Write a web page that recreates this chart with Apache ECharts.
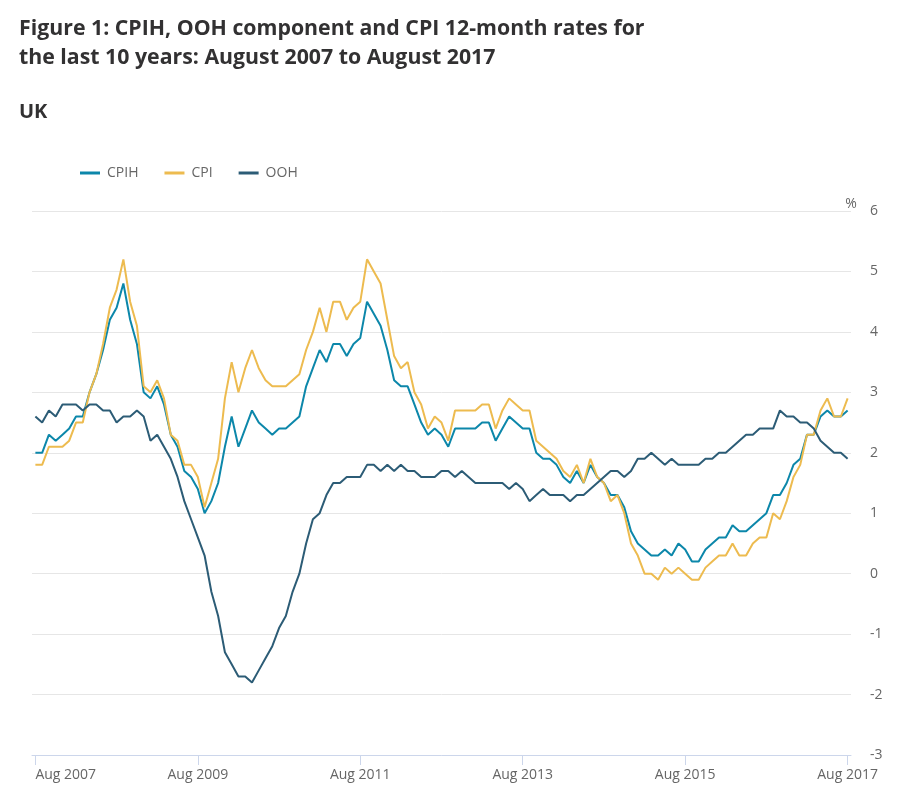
<!DOCTYPE html>
<html>
<head>
<meta charset="utf-8">
<script src="https://cdn.jsdelivr.net/npm/echarts@6/dist/echarts.min.js"></script>
<style>
html,body{margin:0;padding:0;background:#ffffff;}
#chart{width:914px;height:800px;}
</style>
</head>
<body>
<div id="chart"></div>
<script>
// ---- Data (monthly 12-month rates, %, Aug 2007 to Aug 2017) ----
const monthNames = ['Jan','Feb','Mar','Apr','May','Jun','Jul','Aug','Sep','Oct','Nov','Dec'];
const startYear = 2007;
const startMonthIndex = 7; // August
const monthCount = 121;
const categories = [];
for (let k = 0; k < monthCount; k++) {
  const m = (startMonthIndex + k) % 12;
  const y = startYear + Math.floor((startMonthIndex + k) / 12);
  categories.push(monthNames[m] + ' ' + y);
}

const cpih = [
  2.0, 2.0, 2.3, 2.2, 2.3,
  2.4, 2.6, 2.6, 3.0, 3.3, 3.7, 4.2, 4.4, 4.8, 4.2, 3.8, 3.0,
  2.9, 3.1, 2.8, 2.3, 2.1, 1.7, 1.6, 1.4, 1.0, 1.2, 1.5, 2.1,
  2.6, 2.1, 2.4, 2.7, 2.5, 2.4, 2.3, 2.4, 2.4, 2.5, 2.6, 3.1,
  3.4, 3.7, 3.5, 3.8, 3.8, 3.6, 3.8, 3.9, 4.5, 4.3, 4.1, 3.7,
  3.2, 3.1, 3.1, 2.8, 2.5, 2.3, 2.4, 2.3, 2.1, 2.4, 2.4, 2.4,
  2.4, 2.5, 2.5, 2.2, 2.4, 2.6, 2.5, 2.4, 2.4, 2.0, 1.9, 1.9,
  1.8, 1.6, 1.5, 1.7, 1.5, 1.8, 1.6, 1.5, 1.3, 1.3, 1.1, 0.7,
  0.5, 0.4, 0.3, 0.3, 0.4, 0.3, 0.5, 0.4, 0.2, 0.2, 0.4, 0.5,
  0.6, 0.6, 0.8, 0.7, 0.7, 0.8, 0.9, 1.0, 1.3, 1.3, 1.5, 1.8,
  1.9, 2.3, 2.3, 2.6, 2.7, 2.6, 2.6, 2.7
];

const cpi = [
  1.8, 1.8, 2.1, 2.1, 2.1,
  2.2, 2.5, 2.5, 3.0, 3.3, 3.8, 4.4, 4.7, 5.2, 4.5, 4.1, 3.1,
  3.0, 3.2, 2.9, 2.3, 2.2, 1.8, 1.8, 1.6, 1.1, 1.5, 1.9, 2.9,
  3.5, 3.0, 3.4, 3.7, 3.4, 3.2, 3.1, 3.1, 3.1, 3.2, 3.3, 3.7,
  4.0, 4.4, 4.0, 4.5, 4.5, 4.2, 4.4, 4.5, 5.2, 5.0, 4.8, 4.2,
  3.6, 3.4, 3.5, 3.0, 2.8, 2.4, 2.6, 2.5, 2.2, 2.7, 2.7, 2.7,
  2.7, 2.8, 2.8, 2.4, 2.7, 2.9, 2.8, 2.7, 2.7, 2.2, 2.1, 2.0,
  1.9, 1.7, 1.6, 1.8, 1.5, 1.9, 1.6, 1.5, 1.2, 1.3, 1.0, 0.5,
  0.3, 0.0, 0.0, -0.1, 0.1, 0.0, 0.1, 0.0, -0.1, -0.1, 0.1, 0.2,
  0.3, 0.3, 0.5, 0.3, 0.3, 0.5, 0.6, 0.6, 1.0, 0.9, 1.2, 1.6,
  1.8, 2.3, 2.3, 2.7, 2.9, 2.6, 2.6, 2.9
];

const ooh = [
  2.6, 2.5, 2.7, 2.6, 2.8,
  2.8, 2.8, 2.7, 2.8, 2.8, 2.7, 2.7, 2.5, 2.6, 2.6, 2.7, 2.6,
  2.2, 2.3, 2.1, 1.9, 1.6, 1.2, 0.9, 0.6, 0.3, -0.3, -0.7, -1.3,
  -1.5, -1.7, -1.7, -1.8, -1.6, -1.4, -1.2, -0.9, -0.7, -0.3, 0.0, 0.5,
  0.9, 1.0, 1.3, 1.5, 1.5, 1.6, 1.6, 1.6, 1.8, 1.8, 1.7, 1.8,
  1.7, 1.8, 1.7, 1.7, 1.6, 1.6, 1.6, 1.7, 1.7, 1.6, 1.7, 1.6,
  1.5, 1.5, 1.5, 1.5, 1.5, 1.4, 1.5, 1.4, 1.2, 1.3, 1.4, 1.3,
  1.3, 1.3, 1.2, 1.3, 1.3, 1.4, 1.5, 1.6, 1.7, 1.7, 1.6, 1.7,
  1.9, 1.9, 2.0, 1.9, 1.8, 1.9, 1.8, 1.8, 1.8, 1.8, 1.9, 1.9,
  2.0, 2.0, 2.1, 2.2, 2.3, 2.3, 2.4, 2.4, 2.4, 2.7, 2.6, 2.6,
  2.5, 2.5, 2.4, 2.2, 2.1, 2.0, 2.0, 1.9
];

const seriesNames = ['CPIH', 'CPI', 'OOH'];
const seriesColors = ['#0c87aa', '#edbb4f', '#2c5c76'];
const xLabelEvery = 24; // a tick label every 2 years (Aug)
const yMin = -3, yMax = 6, yStep = 1;

const titleLines = [
  'Figure 1: CPIH, OOH component and CPI 12-month rates for',
  'the last 10 years: August 2007 to August 2017'
];
const subtitleText = 'UK';

const FONT = "'Open Sans', 'Noto Sans', sans-serif";

const chart = echarts.init(document.getElementById('chart'), null, {renderer: 'canvas'});
const showEvery = (idx) => idx % xLabelEvery === 0;

chart.setOption({
  animation: false,
  backgroundColor: '#ffffff',
  title: [
    {
      text: titleLines.join('\n'),
      left: 19,
      top: 14,
      padding: 0,
      textStyle: {fontFamily: FONT, fontSize: 21.3, fontWeight: 'bold', color: '#323132', lineHeight: 29}
    },
    {
      text: subtitleText,
      left: 19,
      top: 102,
      padding: 0,
      textStyle: {fontFamily: FONT, fontSize: 20, fontWeight: 'bold', color: '#323132', lineHeight: 20}
    }
  ],
  legend: {
    data: seriesNames,
    left: 80,
    top: 166,
    padding: 0,
    icon: 'rect',
    itemWidth: 20,
    itemHeight: 3,
    itemGap: 26,
    textStyle: {fontFamily: FONT, fontSize: 14, color: '#666666', padding: [0, 0, 0, 2]}
  },
  grid: {left: 32, right: 63, top: 211, bottom: 45, containLabel: false},
  xAxis: {
    type: 'category',
    data: categories,
    boundaryGap: true,
    axisLine: {show: true, onZero: false, lineStyle: {color: '#ccd6eb', width: 1}},
    axisTick: {show: true, alignWithLabel: true, interval: showEvery, length: 10, lineStyle: {color: '#ccd6eb'}},
    axisLabel: {
      interval: showEvery,
      margin: 13,
      color: '#666666',
      fontFamily: FONT,
      fontSize: 14,
      alignMinLabel: 'left'
    },
    splitLine: {show: false}
  },
  yAxis: {
    type: 'value',
    position: 'right',
    min: yMin,
    max: yMax,
    interval: yStep,
    name: '%',
    nameLocation: 'end',
    nameGap: 0,
    nameTextStyle: {fontFamily: FONT, fontSize: 14, color: '#666666', align: 'center'},
    axisLine: {show: false},
    axisTick: {show: false},
    axisLabel: {margin: 19, color: '#666666', fontFamily: FONT, fontSize: 14, padding: [6, 0, 0, 0]},
    splitLine: {show: true, lineStyle: {color: '#e6e6e6', width: 1}}
  },
  series: [
    {name: seriesNames[0], type: 'line', data: cpih, color: seriesColors[0], showSymbol: false, symbol: 'none', lineStyle: {width: 2}},
    {name: seriesNames[1], type: 'line', data: cpi, color: seriesColors[1], showSymbol: false, symbol: 'none', lineStyle: {width: 2}},
    {name: seriesNames[2], type: 'line', data: ooh, color: seriesColors[2], showSymbol: false, symbol: 'none', lineStyle: {width: 2}}
  ]
});
</script>
</body>
</html>
